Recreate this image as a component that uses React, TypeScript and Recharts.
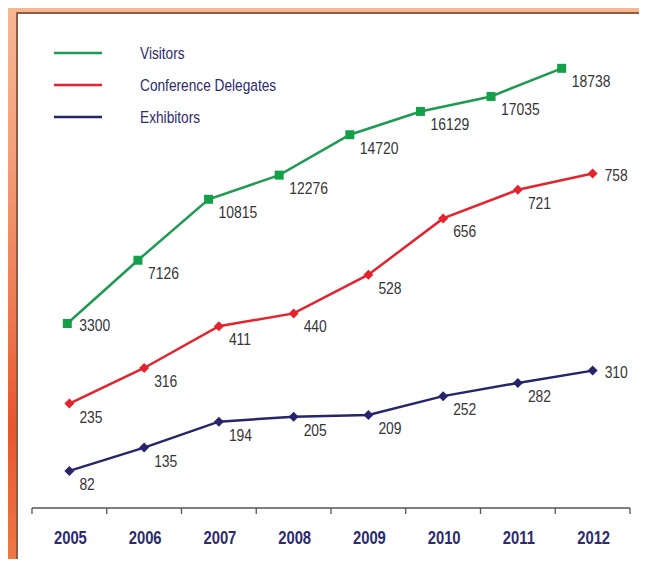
import React from 'react';
import { LineChart, Line, XAxis, YAxis, Legend, LabelList } from 'recharts';

const years = ['2005', '2006', '2007', '2008', '2009', '2010', '2011', '2012'];
const visitors = [3300, 7126, 10815, 12276, 14720, 16129, 17035, 18738];
const delegates = [235, 316, 411, 440, 528, 656, 721, 758];
const exhibitors = [82, 135, 194, 205, 209, 252, 282, 310];
const seriesNames = ['Visitors', 'Conference Delegates', 'Exhibitors'];

const data = years.map((y, i) => ({
  year: y,
  visitors: visitors[i],
  delegates: delegates[i],
  exhibitors: exhibitors[i],
}));

const GREEN = '#1f9a52';
const GREEN_MARK = '#14a049';
const RED = '#e5232d';
const NAVY = '#26256c';
const LABEL = '#363636';
const YEAR = '#2c2b6e';
const FONT = '"Liberation Sans", Arial, sans-serif';

const PLOT_LEFT = 32;
const PLOT_RIGHT = 630;
const BAND = (PLOT_RIGHT - PLOT_LEFT) / years.length;

const NarrowText = ({ x, y, sx, children, ...rest }: any) => (
  <text
    transform={`translate(${x},${y}) scale(${sx},1)`}
    x={0}
    y={0}
    dominantBaseline="central"
    fontFamily={FONT}
    {...rest}
  >
    {children}
  </text>
);

const XTick = (props: any) => {
  const { x, y, payload, index } = props;
  const last = index === years.length - 1;
  return (
    <g>
      <line x1={x - BAND / 2} y1={y} x2={x - BAND / 2} y2={y + 6} stroke="#555" strokeWidth={1.3} />
      {last && <line x1={x + BAND / 2} y1={y} x2={x + BAND / 2} y2={y + 6} stroke="#555" strokeWidth={1.3} />}
      <NarrowText
        x={x + 1}
        y={y + 30}
        sx={0.78}
        textAnchor="middle"
        fill={YEAR}
        fontWeight="bold"
        fontSize={19}
      >
        {payload.value}
      </NarrowText>
    </g>
  );
};

// levelAt: which point's label sits level with (right of) the point
const makeLabel = (levelAt: 'first' | 'last') => (props: any) => {
  const { x, y, value, index } = props;
  const level = levelAt === 'first' ? index === 0 : index === years.length - 1;
  return (
    <NarrowText
      x={x + (level ? 12 : 10)}
      y={y + (level ? 1 : 13)}
      sx={0.82}
      textAnchor="start"
      fill={LABEL}
      fontSize={17}
    >
      {value}
    </NarrowText>
  );
};

const squareDot = (props: any) => {
  const { cx, cy, index } = props;
  return <rect key={`sq${index}`} x={cx - 4.5} y={cy - 4.5} width={9} height={9} fill={GREEN_MARK} />;
};

const diamondDot = (color: string) => (props: any) => {
  const { cx, cy, index } = props;
  const r = 5;
  return (
    <path
      key={`dm${color}${index}`}
      d={`M${cx},${cy - r} L${cx + r},${cy} L${cx},${cy + r} L${cx - r},${cy} Z`}
      fill={color}
    />
  );
};

const LegendContent = (props: any) => {
  const payload = [...(props.payload || [])].sort(
    (a: any, b: any) => seriesNames.indexOf(a.value) - seriesNames.indexOf(b.value)
  );
  return (
    <svg width={320} height={140} style={{ display: 'block' }}>
      {payload.map((p: any, i: number) => {
        const y = 53 + i * 32;
        return (
          <g key={p.value}>
            <line x1={54} y1={y} x2={102} y2={y} stroke={p.color} strokeWidth={2.5} />
            <NarrowText x={140} y={y} sx={0.83} fill={YEAR} fontSize={16.5}>
              {p.value}
            </NarrowText>
          </g>
        );
      })}
    </svg>
  );
};

export default function App() {
  return (
    <div
      style={{
        position: 'relative',
        width: 647,
        height: 567,
        margin: -8,
        overflow: 'hidden',
        background:
          'linear-gradient(180deg, #f7b894 0%, #f4a27c 25%, #ee7a52 55%, #e8552f 75%, #ef7a45 100%)',
      }}
    >
      <div
        style={{
          position: 'absolute',
          left: 16,
          top: 12,
          width: 622,
          height: 570,
          background: '#ffffff',
          borderLeft: '2px solid #8a5e44',
          borderTop: '2px solid #8a5e44',
          borderRight: '2px solid #d4913f',
        }}
      />
      <div style={{ position: 'absolute', left: 0, top: 0 }}>
        <LineChart
          width={647}
          height={567}
          data={data}
          margin={{ top: 20, right: 647 - PLOT_RIGHT, left: PLOT_LEFT, bottom: 19 }}
        >
          <XAxis
            dataKey="year"
            xAxisId="main"
            scale="band"
            height={40}
            axisLine={{ stroke: '#555', strokeWidth: 1.3 }}
            tickLine={false}
            tickSize={0}
            tickMargin={0}
            interval={0}
            tick={<XTick />}
          />
          <XAxis dataKey="year" xAxisId="vis" scale="band" hide padding={{ left: 0, right: 33 }} />
          <YAxis yAxisId="vis" hide type="number" domain={[-7861, 21661]} allowDataOverflow />
          <YAxis yAxisId="small" hide type="number" domain={[-2.3, 1107]} allowDataOverflow />
          <Legend
            layout="vertical"
            align="center"
            verticalAlign="middle"
            wrapperStyle={{ left: 0, top: 0, width: 320, height: 140 }}
            content={<LegendContent />}
          />
          <Line
            name={seriesNames[0]}
            dataKey="visitors"
            xAxisId="vis"
            yAxisId="vis"
            stroke={GREEN}
            strokeWidth={2.5}
            dot={squareDot}
            activeDot={false}
            isAnimationActive={false}
          >
            <LabelList dataKey="visitors" content={makeLabel('first')} />
          </Line>
          <Line
            name={seriesNames[1]}
            dataKey="delegates"
            xAxisId="main"
            yAxisId="small"
            stroke={RED}
            strokeWidth={2.5}
            dot={diamondDot(RED)}
            activeDot={false}
            isAnimationActive={false}
          >
            <LabelList dataKey="delegates" content={makeLabel('last')} />
          </Line>
          <Line
            name={seriesNames[2]}
            dataKey="exhibitors"
            xAxisId="main"
            yAxisId="small"
            stroke={NAVY}
            strokeWidth={2.5}
            dot={diamondDot(NAVY)}
            activeDot={false}
            isAnimationActive={false}
          >
            <LabelList dataKey="exhibitors" content={makeLabel('last')} />
          </Line>
        </LineChart>
      </div>
    </div>
  );
}
